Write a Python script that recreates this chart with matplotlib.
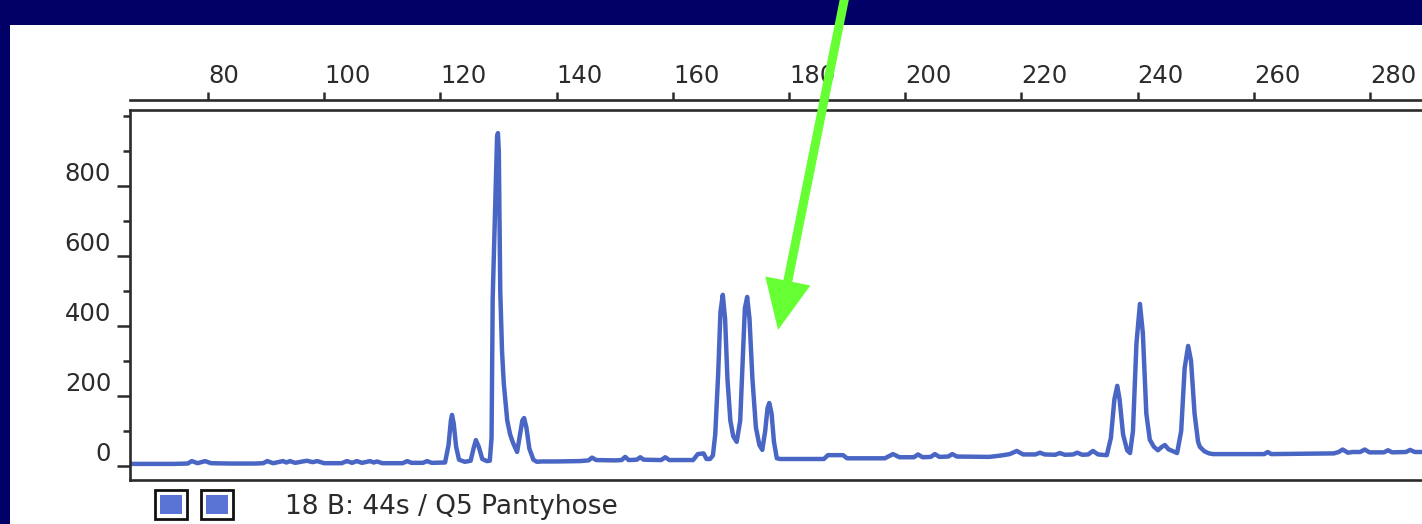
import matplotlib
matplotlib.use("Agg")
import matplotlib.pyplot as plt
from matplotlib.patches import Rectangle, FancyArrow
from matplotlib.ticker import MultipleLocator, FixedLocator

# ---- data (size in bp, signal in RFU) ----
size_bp = [66.6, 70, 74, 76.5, 77.2, 78.2, 79.5, 80.5, 84, 88, 89.5, 90.2, 91.2, 92.9, 93.5, 94.1, 95,
           97.0, 98.0, 98.8, 100, 103, 103.9, 104.8, 105.6, 106.5, 107.9, 108.5, 109.1, 110, 113.5,
           114.3, 115, 117, 117.7, 118.5, 120.5,
           120.8, 121.4, 121.8, 122.0, 122.3, 122.7, 123.2, 124.2, 125.2, 125.7, 126.1, 126.6, 127.2,
           128.0, 128.5, 128.8, 129.0, 129.4, 129.75, 129.9, 130.05, 130.3, 130.6, 130.9, 131.5, 132.0,
           132.5, 133.2, 133.7, 134.1, 134.4, 134.8, 135.3, 136.0, 136.6,
           137.5, 140, 144, 145.5, 146.1, 146.8, 150, 151.2, 151.8, 152.4, 153.8, 154.4, 155.0, 158.0,
           158.7, 159.4, 163.5, 164.3, 165.3, 165.8, 166.4,
           166.9, 167.3, 167.8, 168.2, 168.6, 169.0, 169.4, 169.9, 170.4, 171.0, 171.6, 172.0, 172.4,
           172.8, 173.2, 173.7, 174.3, 174.9, 175.4, 175.9, 176.3, 176.6, 177.0, 177.4, 177.9,
           178.5, 182, 186.0, 186.7, 189.3, 190.0, 196.5, 197.9, 199.0, 201.5, 202.2, 203.0, 204.4,
           205.1, 205.9, 207.4, 208.1, 208.9, 214.5, 216.5, 218.0, 219.2, 220.3, 222.4, 223.2, 224.0,
           225.8, 226.6, 227.5, 228.9, 229.6, 230.5, 231.5, 232.3, 233.2,
           234.7, 235.4, 236.0, 236.5, 236.9, 237.5, 238.2, 238.7, 239.2, 239.8, 240.4, 240.9, 241.5,
           242.1, 242.8, 243.5, 244.2, 244.7, 245.3, 246.8, 247.5, 248.1, 248.7, 249.2, 249.8, 250.4,
           250.7, 251.5, 252.3, 253.0,
           261.8, 262.4, 263.0, 273.8, 274.6, 275.3, 276.2, 277.0, 278.3, 279.1, 279.9, 282.4, 283.1,
           283.8, 286.2, 286.9, 287.7, 290, 294]
rfu = [6, 6, 6, 7, 14, 8, 14, 8, 7, 7, 8, 14, 8, 14, 10, 14, 9,
       15, 11, 14, 8, 8, 14, 9, 14, 9, 14, 10, 13, 8, 8,
       14, 9, 9, 14, 9, 10,
       10, 60, 130, 146, 120, 55, 18, 12, 15, 50, 74, 55, 20,
       14, 15, 80, 480, 720, 940, 951, 900, 500, 330, 237, 130, 90,
       66, 40, 90, 130, 137, 110, 50, 18, 12,
       13, 13, 14, 16, 24, 17, 16, 17, 26, 17, 18, 25, 18, 17,
       25, 17, 17, 34, 36, 20, 20,
       30, 90, 260, 440, 489, 420, 250, 130, 85, 69, 130, 290, 450,
       483, 420, 250, 110, 60, 46, 100, 165, 180, 150, 70, 22,
       20, 20, 20, 31, 31, 22, 22, 34, 25, 25, 33, 25, 26,
       34, 26, 27, 34, 27, 26, 30, 34, 43, 33, 33, 38, 33,
       32, 37, 32, 33, 38, 32, 33, 43, 33,
       31, 80, 190, 229, 190, 90, 45, 37, 100, 350, 463, 380, 150,
       75, 55, 45, 55, 60, 48, 37, 100, 280, 343, 300, 150, 70,
       55, 42, 36, 34,
       34, 40, 34, 36, 40, 47, 38, 40, 40, 47, 39, 39, 45,
       39, 40, 46, 40, 40, 40]

top_ticks = [80, 100, 120, 140, 160, 180, 200, 220, 240, 260, 280]
left_ticks = [0, 200, 400, 600, 800]
caption = "18 B: 44s / Q5 Pantyhose"

W, H = 1422, 524
NAVY = "#000066"
INK = "#2b2b2b"
TRACE = "#4a66c4"

fig = plt.figure(figsize=(W / 100, H / 100), dpi=100)
fig.patch.set_facecolor(NAVY)

# background page (pixel coordinates)
bg = fig.add_axes([0, 0, 1, 1], zorder=0)
bg.set_xlim(0, W)
bg.set_ylim(H, 0)
bg.axis("off")
bg.add_patch(Rectangle((0, 0), W, H, facecolor=NAVY, edgecolor="none"))
bg.add_patch(Rectangle((10, 25), W - 10, H - 25, facecolor="white", edgecolor="none"))

# main plot axes
px_left, px_right, px_top, px_bottom = 130, 1450, 110, 480
ax = fig.add_axes([px_left / W, (H - px_bottom) / H, (px_right - px_left) / W,
                   (px_bottom - px_top) / H], zorder=2)
ax.set_facecolor("white")
ax.plot(size_bp, rfu, color=TRACE, lw=3.2, solid_joinstyle="round")
ax.set_xlim(66.57, 293.77)
ax.set_ylim(-40, 1017)

# top size axis, offset above the box
ax2 = ax.twiny()
ax2.set_xlim(ax.get_xlim())
for k in ["left", "right", "bottom"]:
    ax2.spines[k].set_visible(False)
ax2.spines["top"].set_position(("outward", 7.5))
ax2.spines["top"].set_linewidth(1.9)
ax2.spines["top"].set_color(INK)
ax2.xaxis.set_major_locator(FixedLocator(top_ticks))
ax2.tick_params(axis="x", which="major", direction="out", length=6, width=1.8,
                color=INK, labelsize=17.5, labelcolor=INK, pad=2)
plt.setp(ax2.get_xticklabels(), ha="left")

for s in ax.spines.values():
    s.set_linewidth(1.9)
    s.set_color(INK)
ax.yaxis.set_major_locator(FixedLocator(left_ticks))
ax.yaxis.set_minor_locator(MultipleLocator(100))
ax.tick_params(axis="y", which="major", direction="out", length=9.5, width=1.8,
               color=INK, labelsize=17.5, labelcolor=INK, pad=4, left=True, labelleft=True)
ax.tick_params(axis="y", which="minor", direction="out", length=5, width=1.8, color=INK, left=True)
ax.tick_params(axis="x", which="both", bottom=False, top=False, labelbottom=False, labeltop=False)
plt.setp(ax.get_yticklabels(), va="bottom")

# overlay: legend boxes, caption and the green arrow
ov = fig.add_axes([0, 0, 1, 1], zorder=5)
ov.set_xlim(0, W)
ov.set_ylim(H, 0)
ov.axis("off")
ov.patch.set_alpha(0)
for x0 in (155, 201):
    ov.add_patch(Rectangle((x0, 490), 32, 29, facecolor="white", edgecolor="#111111", lw=2))
    ov.add_patch(Rectangle((x0 + 5, 495), 22, 19, facecolor="#5a74d6", edgecolor="none"))
ov.text(285, 514, caption, fontsize=19, color=INK, ha="left", va="baseline")
ov.add_patch(FancyArrow(845, -4, 778 - 845, 330 + 4, width=9, head_width=46, head_length=50,
                        length_includes_head=True, facecolor="#66ff33", edgecolor="none"))

fig.savefig("out.png", dpi=100, facecolor=NAVY)
